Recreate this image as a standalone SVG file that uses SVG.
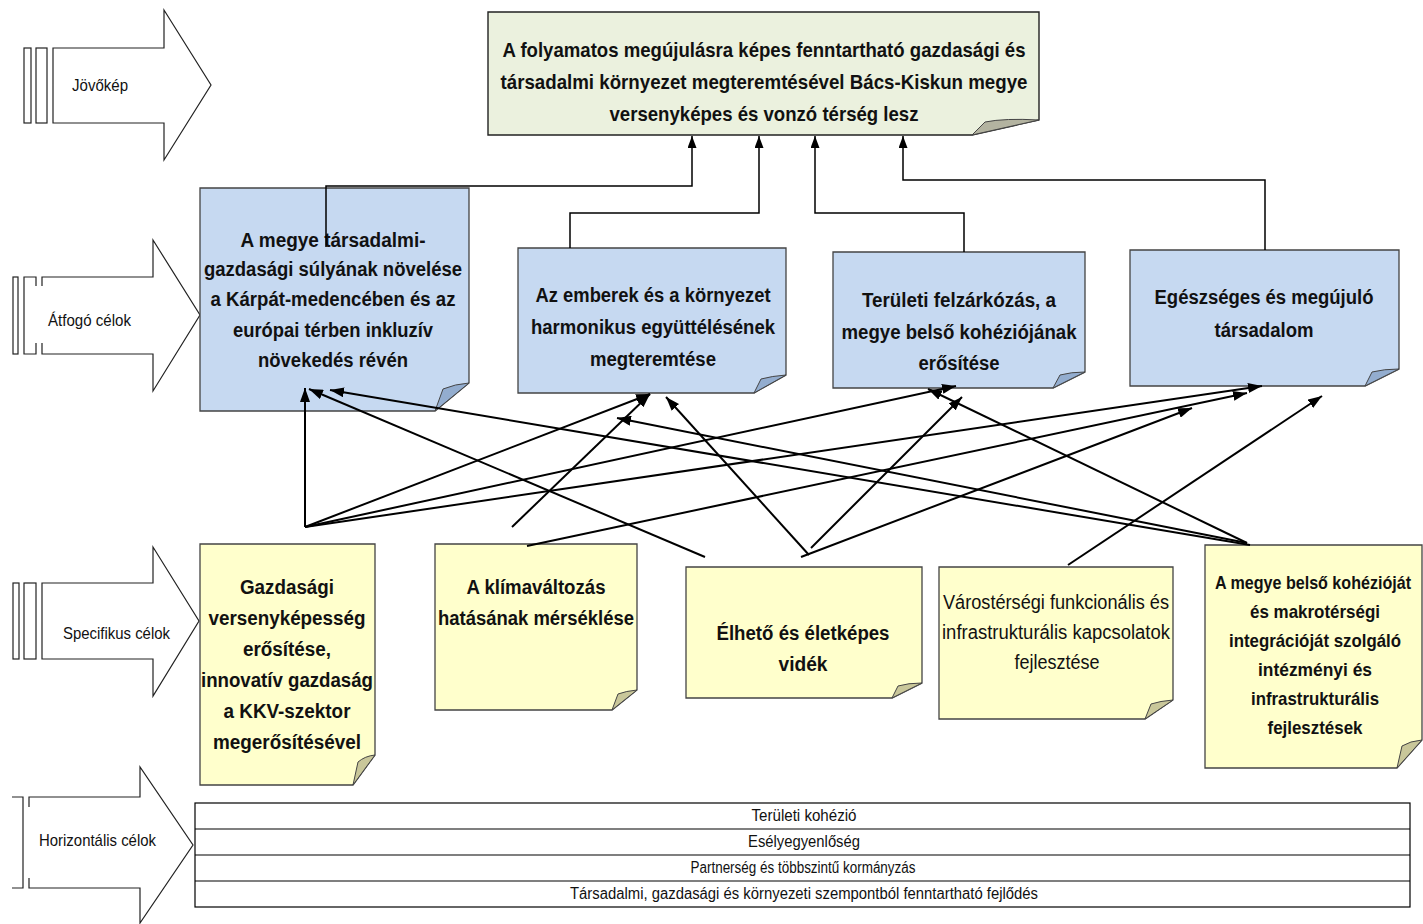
<svg xmlns="http://www.w3.org/2000/svg" width="1423" height="924" viewBox="0 0 1423 924">
<style>
.bg{fill:#ffffff}
.lbl{fill:none;stroke:#222;stroke-width:1.2}
.bar{fill:#fff;stroke:#222;stroke-width:1.2}
.vis{fill:#ebf1de;stroke:#222;stroke-width:1.4}
.blue{fill:#c6d9f1;stroke:#444;stroke-width:1.3}
.yel{fill:#ffffcc;stroke:#444;stroke-width:1.3}
.flapG{fill:#b3b3a0;stroke:#444;stroke-width:1}
.flapB{fill:#93adcf;stroke:#444;stroke-width:1}
.flapY{fill:#c9c79a;stroke:#444;stroke-width:1}
text{font-family:"Liberation Sans Narrow","Liberation Sans",Arial,sans-serif;fill:#111}
.b20{font-size:21px;font-weight:bold;text-anchor:middle}
.b19{font-size:20px;font-weight:bold;text-anchor:middle}
.b18{font-size:19px;font-weight:bold;text-anchor:middle}
.r19{font-size:20px;text-anchor:middle}
.lt{font-size:17px}
.tt{font-size:16px;text-anchor:middle}
.ortho{fill:none;stroke:#000;stroke-width:1.5;marker-end:url(#arrT)}
.diag{fill:none;stroke:#000;stroke-width:2;marker-end:url(#arr)}
.tbl{fill:#fff;stroke:#000;stroke-width:1.2}
</style>
<defs>
<marker id="arr" markerUnits="userSpaceOnUse" markerWidth="14" markerHeight="10" refX="14" refY="5" orient="auto"><path d="M0,0 L14,5 L0,10 Z" fill="#000"/></marker>
<marker id="arrT" markerUnits="userSpaceOnUse" markerWidth="12" markerHeight="9" refX="12" refY="4.5" orient="auto"><path d="M0,0 L12,4.5 L0,9 Z" fill="#000"/></marker>
</defs>
<rect class="bg" x="0" y="0" width="1423" height="924"/>

<g id="label-jovokep">
<rect class="bar" x="24" y="48" width="7" height="75"/>
<rect class="bar" x="36" y="48" width="11" height="75"/>
<path class="lbl" d="M53,48 H164 V10 L211,85 L164,160 V123 H53 Z"/>
<text class="lt" x="72" y="91" textLength="56" lengthAdjust="spacingAndGlyphs">Jövőkép</text>
</g>

<g id="label-atfogo">
<rect class="bar" x="13" y="277" width="5" height="77"/>
<path class="lbl" d="M36,286 V277 H24 V354 H36 V343"/>
<path class="lbl" d="M42,286 V277 H153 V240 L200,315 L153,391 V354 H42 V343"/>
<text class="lt" x="48" y="326" textLength="83" lengthAdjust="spacingAndGlyphs">Átfogó célok</text>
</g>

<g id="label-specifikus">
<rect class="bar" x="13" y="583" width="6" height="76"/>
<rect class="bar" x="24" y="583" width="12" height="76"/>
<path class="lbl" d="M42,583 H153 V547 L199,621 L153,696 V659 H42 Z"/>
<text class="lt" x="63" y="639" textLength="107" lengthAdjust="spacingAndGlyphs">Specifikus célok</text>
</g>

<g id="label-horizontalis">
<path class="lbl" d="M12,797 H23 V888 H12"/>
<path class="lbl" d="M29,807 V797 H140 V767 L193,845 L140,923 V888 H29 V878"/>
<text class="lt" x="39" y="846" textLength="117" lengthAdjust="spacingAndGlyphs">Horizontális célok</text>
</g>

<g id="vision">
<path class="vis" d="M488,12 H1039 V120 L972,135 H488 Z"/>
<path class="flapG" d="M972,135 L985,122 Q1005,118 1039,120 Z"/>
<text class="b20" x="764" y="57" textLength="523" lengthAdjust="spacingAndGlyphs">A folyamatos megújulásra képes fenntartható gazdasági és</text>
<text class="b20" x="764" y="89" textLength="527" lengthAdjust="spacingAndGlyphs">társadalmi környezet megteremtésével Bács-Kiskun megye</text>
<text class="b20" x="764" y="121" textLength="309" lengthAdjust="spacingAndGlyphs">versenyképes és vonzó térség lesz</text>
</g>

<g id="atfogo-1">
<path class="blue" d="M200,188 H469 V383 L435,411 H200 Z"/>
<path class="flapB" d="M435,411 L443,389 Q455,384 469,383 Z"/>
<text class="b19" x="333" y="247" textLength="185" lengthAdjust="spacingAndGlyphs">A megye társadalmi-</text>
<text class="b19" x="333" y="276" textLength="258" lengthAdjust="spacingAndGlyphs">gazdasági súlyának növelése</text>
<text class="b19" x="333" y="306" textLength="245" lengthAdjust="spacingAndGlyphs">a Kárpát-medencében és az</text>
<text class="b19" x="333" y="337" textLength="200" lengthAdjust="spacingAndGlyphs">európai térben inkluzív</text>
<text class="b19" x="333" y="367" textLength="150" lengthAdjust="spacingAndGlyphs">növekedés révén</text>
</g>

<g id="atfogo-2">
<path class="blue" d="M518,248 H786 V375 L754,393 H518 Z"/>
<path class="flapB" d="M754,393 L761,379 Q772,376 786,375 Z"/>
<text class="b19" x="653" y="302" textLength="235" lengthAdjust="spacingAndGlyphs">Az emberek és a környezet</text>
<text class="b19" x="653" y="334" textLength="244" lengthAdjust="spacingAndGlyphs">harmonikus együttélésének</text>
<text class="b19" x="653" y="366" textLength="126" lengthAdjust="spacingAndGlyphs">megteremtése</text>
</g>

<g id="atfogo-3">
<path class="blue" d="M833,252 H1085 V372 L1053,388 H833 Z"/>
<path class="flapB" d="M1053,388 L1060,375 Q1071,372 1085,372 Z"/>
<text class="b19" x="959" y="307" textLength="194" lengthAdjust="spacingAndGlyphs">Területi felzárkózás, a</text>
<text class="b19" x="959" y="339" textLength="235" lengthAdjust="spacingAndGlyphs">megye belső kohéziójának</text>
<text class="b19" x="959" y="370" textLength="81" lengthAdjust="spacingAndGlyphs">erősítése</text>
</g>

<g id="atfogo-4">
<path class="blue" d="M1130,250 H1399 V369 L1365,386 H1130 Z"/>
<path class="flapB" d="M1365,386 L1372,372 Q1384,369 1399,369 Z"/>
<text class="b19" x="1264" y="304" textLength="219" lengthAdjust="spacingAndGlyphs">Egészséges és megújuló</text>
<text class="b19" x="1264" y="337" textLength="99" lengthAdjust="spacingAndGlyphs">társadalom</text>
</g>

<g id="spec-1">
<path class="yel" d="M200,544 H375 V755 L353,785 H200 Z"/>
<path class="flapY" d="M353,785 L358,762 Q365,756 375,755 Z"/>
<text class="b19" x="287" y="594" textLength="94" lengthAdjust="spacingAndGlyphs">Gazdasági</text>
<text class="b19" x="287" y="625" textLength="157" lengthAdjust="spacingAndGlyphs">versenyképesség</text>
<text class="b19" x="287" y="656" textLength="88" lengthAdjust="spacingAndGlyphs">erősítése,</text>
<text class="b19" x="287" y="687" textLength="172" lengthAdjust="spacingAndGlyphs">innovatív gazdaság</text>
<text class="b19" x="287" y="718" textLength="127" lengthAdjust="spacingAndGlyphs">a KKV-szektor</text>
<text class="b19" x="287" y="749" textLength="148" lengthAdjust="spacingAndGlyphs">megerősítésével</text>
</g>

<g id="spec-2">
<path class="yel" d="M435,544 H637 V690 L612,710 H435 Z"/>
<path class="flapY" d="M612,710 L618,694 Q626,691 637,690 Z"/>
<text class="b19" x="536" y="594" textLength="139" lengthAdjust="spacingAndGlyphs">A klímaváltozás</text>
<text class="b19" x="536" y="625" textLength="196" lengthAdjust="spacingAndGlyphs">hatásának mérséklése</text>
</g>

<g id="spec-3">
<path class="yel" d="M686,567 H922 V683 L892,698 H686 Z"/>
<path class="flapY" d="M892,698 L898,686 Q908,683 922,683 Z"/>
<text class="b19" x="803" y="640" textLength="173" lengthAdjust="spacingAndGlyphs">Élhető és életképes</text>
<text class="b19" x="803" y="671" textLength="49" lengthAdjust="spacingAndGlyphs">vidék</text>
</g>

<g id="spec-4">
<path class="yel" d="M939,567 H1173 V700 L1145,719 H939 Z"/>
<path class="flapY" d="M1145,719 L1151,704 Q1160,701 1173,700 Z"/>
<text class="r19" x="1056" y="609" textLength="226" lengthAdjust="spacingAndGlyphs">Várostérségi funkcionális és</text>
<text class="r19" x="1056" y="639" textLength="228" lengthAdjust="spacingAndGlyphs">infrastrukturális kapcsolatok</text>
<text class="r19" x="1057" y="669" textLength="85" lengthAdjust="spacingAndGlyphs">fejlesztése</text>
</g>

<g id="spec-5">
<path class="yel" d="M1205,545 H1422 V740 L1397,768 H1205 Z"/>
<path class="flapY" d="M1397,768 L1402,746 Q1410,741 1422,740 Z"/>
<text class="b18" x="1313" y="589" textLength="196" lengthAdjust="spacingAndGlyphs">A megye belső kohézióját</text>
<text class="b18" x="1315" y="618" textLength="130" lengthAdjust="spacingAndGlyphs">és makrotérségi</text>
<text class="b18" x="1315" y="647" textLength="172" lengthAdjust="spacingAndGlyphs">integrációját szolgáló</text>
<text class="b18" x="1315" y="676" textLength="114" lengthAdjust="spacingAndGlyphs">intézményi és</text>
<text class="b18" x="1315" y="705" textLength="128" lengthAdjust="spacingAndGlyphs">infrastrukturális</text>
<text class="b18" x="1315" y="734" textLength="95" lengthAdjust="spacingAndGlyphs">fejlesztések</text>
</g>

<g id="horizontal-table">
<rect class="tbl" x="195" y="803" width="1215" height="104"/>
<line x1="195" y1="829" x2="1410" y2="829" stroke="#000" stroke-width="1.2"/>
<line x1="195" y1="855" x2="1410" y2="855" stroke="#000" stroke-width="1.2"/>
<line x1="195" y1="881" x2="1410" y2="881" stroke="#000" stroke-width="1.2"/>
<text class="tt" x="804" y="821" textLength="105" lengthAdjust="spacingAndGlyphs">Területi kohézió</text>
<text class="tt" x="804" y="847" textLength="112" lengthAdjust="spacingAndGlyphs">Esélyegyenlőség</text>
<text class="tt" x="803" y="873" textLength="225" lengthAdjust="spacingAndGlyphs">Partnerség és többszintű kormányzás</text>
<text class="tt" x="804" y="899" textLength="468" lengthAdjust="spacingAndGlyphs">Társadalmi, gazdasági és környezeti szempontból fenntartható fejlődés</text>
</g>

<g id="connectors">
<path class="ortho" d="M326,247 V186 H692 V136"/>
<path class="ortho" d="M570,248 V213 H759 V136"/>
<path class="ortho" d="M964,252 V213 H815 V136"/>
<path class="ortho" d="M1265,250 V180 H903 V136"/>

<path class="diag" d="M305,527 L305,388"/>
<path class="diag" d="M305,527 L650,394"/>
<path class="diag" d="M305,527 L956,386"/>
<path class="diag" d="M305,527 L1262,386"/>
<path class="diag" d="M512,527 L650,394"/>
<path class="diag" d="M527,546 L1247,393"/>
<path class="diag" d="M705,557 L309,389"/>
<path class="diag" d="M809,555 L666,397"/>
<path class="diag" d="M811,548 L962,397"/>
<path class="diag" d="M801,557 L1192,408"/>
<path class="diag" d="M1250,545 L330,390"/>
<path class="diag" d="M1247,543 L617,418"/>
<path class="diag" d="M1247,543 L928,389"/>
<path class="diag" d="M1068,565 L1322,396"/>
</g>
</svg>
